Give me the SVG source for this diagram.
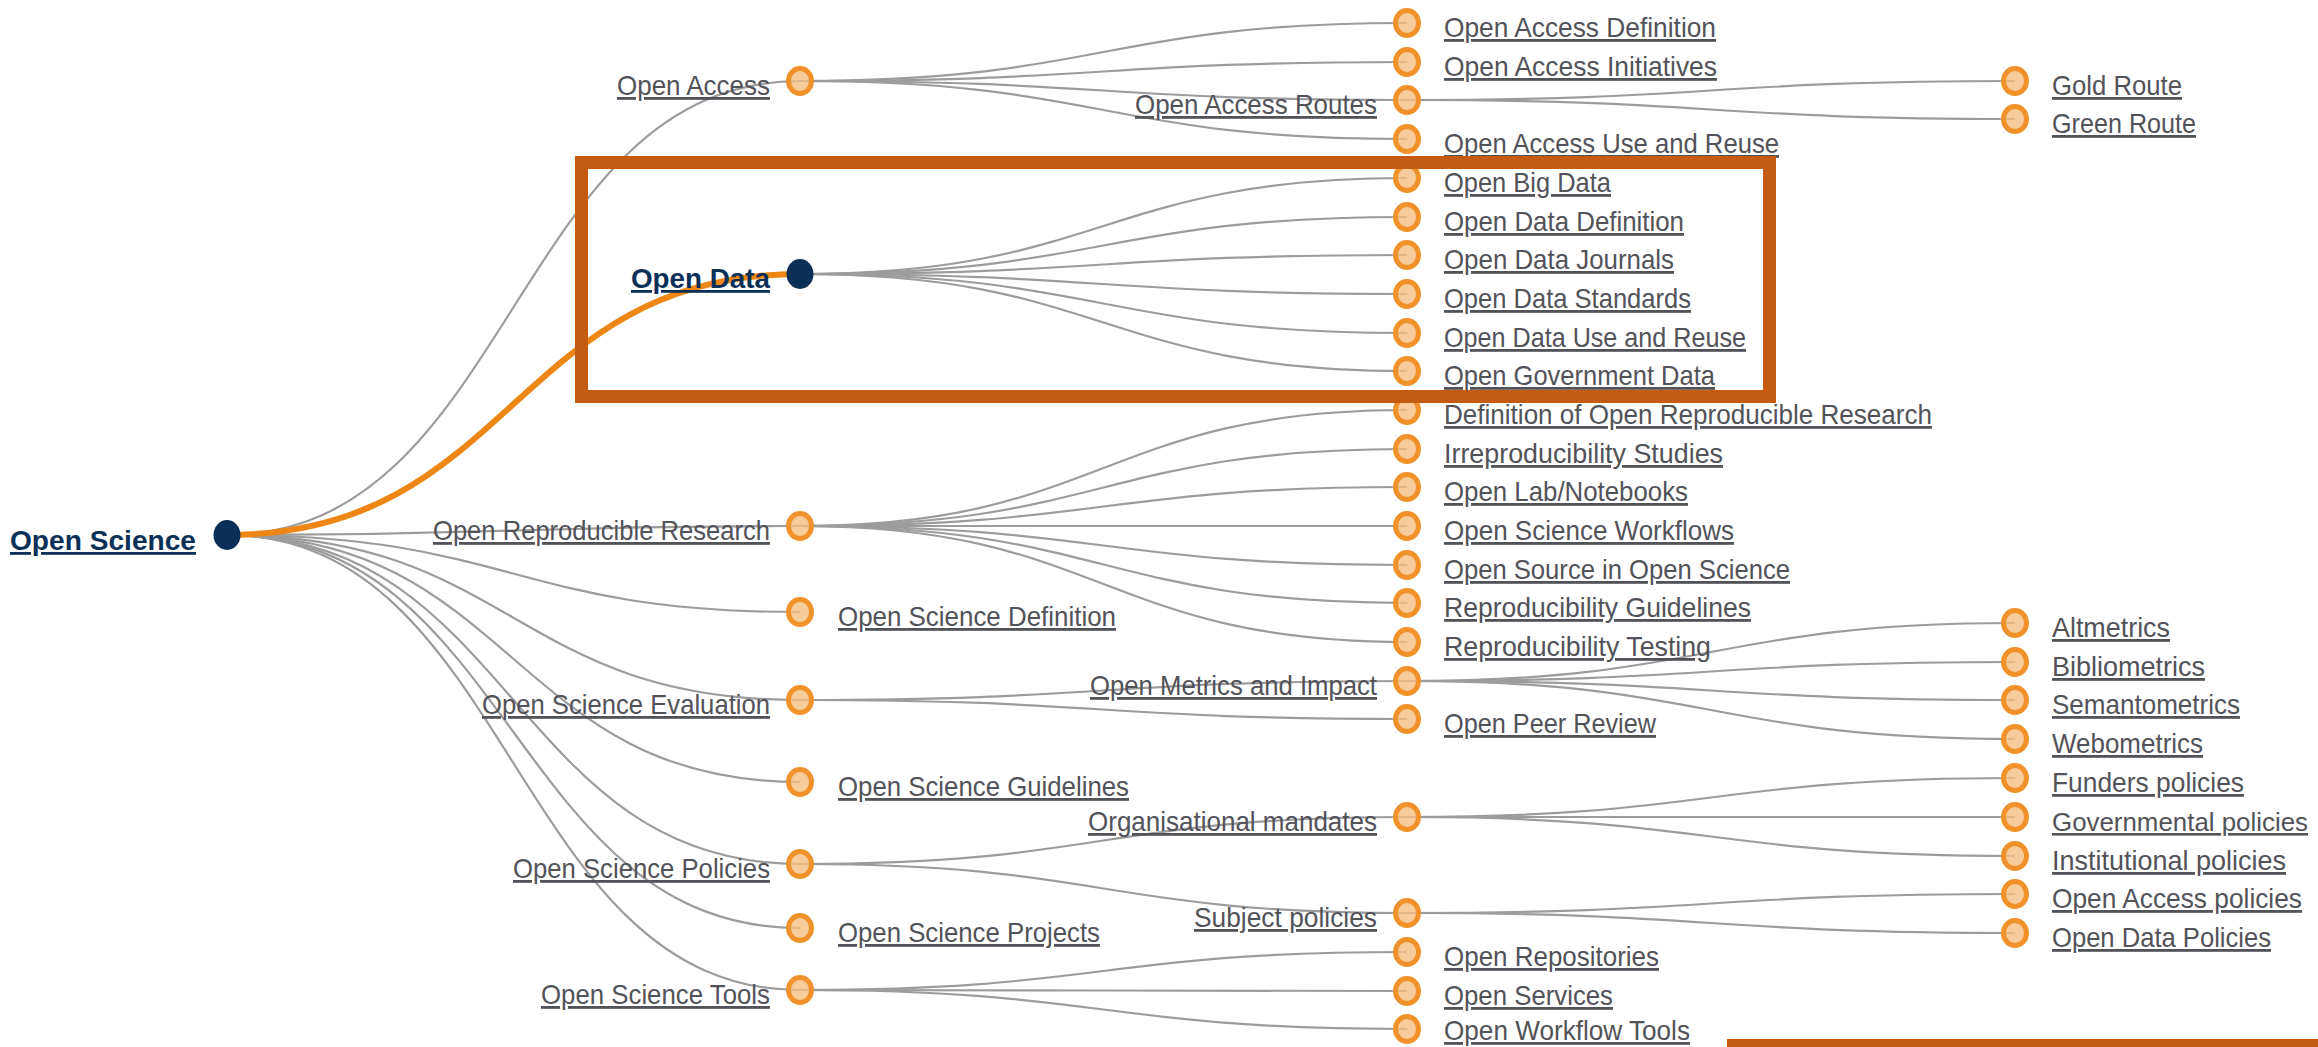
<svg xmlns="http://www.w3.org/2000/svg" width="2318" height="1047" viewBox="0 0 2318 1047">
<style>
.lk{fill:none;stroke:#9c9c9c;stroke-width:2.2}
.hl{fill:none;stroke:#ee8614;stroke-width:6}
.on{fill:#f6be85;fill-opacity:0.8;stroke:#f0912a;stroke-width:5}
.nn{fill:#0b3058}
.t{font-family:"Liberation Sans Narrow","Liberation Sans",Arial,sans-serif;font-size:28px;fill:#525259;text-decoration:underline}
.tb{font-family:"Liberation Sans",Arial,sans-serif;font-size:28px;font-weight:bold;fill:#0b3058;text-decoration:underline}
.e{text-anchor:end}
.s26{font-size:26px}
</style>
<rect width="2318" height="1047" fill="#ffffff"/>
<g id="connectors">
<path class="lk" d="M226,535 C513,535 513,81 800,81"/>
<path class="lk" d="M226,535 C513,535 513,526 800,526"/>
<path class="lk" d="M226,535 C513,535 513,612 800,612"/>
<path class="lk" d="M226,535 C513,535 513,700 800,700"/>
<path class="lk" d="M226,535 C513,535 513,782 800,782"/>
<path class="lk" d="M226,535 C513,535 513,864 800,864"/>
<path class="lk" d="M226,535 C513,535 513,928 800,928"/>
<path class="lk" d="M226,535 C513,535 513,990 800,990"/>
<path class="lk" d="M800,81 C1103.5,81 1103.5,23 1407,23"/>
<path class="lk" d="M800,81 C1103.5,81 1103.5,62 1407,62"/>
<path class="lk" d="M800,81 C1103.5,81 1103.5,100 1407,100"/>
<path class="lk" d="M800,81 C1103.5,81 1103.5,139 1407,139"/>
<path class="lk" d="M800,274 C1103.5,274 1103.5,178 1407,178"/>
<path class="lk" d="M800,274 C1103.5,274 1103.5,217 1407,217"/>
<path class="lk" d="M800,274 C1103.5,274 1103.5,255 1407,255"/>
<path class="lk" d="M800,274 C1103.5,274 1103.5,294 1407,294"/>
<path class="lk" d="M800,274 C1103.5,274 1103.5,333 1407,333"/>
<path class="lk" d="M800,274 C1103.5,274 1103.5,371 1407,371"/>
<path class="lk" d="M800,526 C1103.5,526 1103.5,410 1407,410"/>
<path class="lk" d="M800,526 C1103.5,526 1103.5,449 1407,449"/>
<path class="lk" d="M800,526 C1103.5,526 1103.5,487 1407,487"/>
<path class="lk" d="M800,526 C1103.5,526 1103.5,526 1407,526"/>
<path class="lk" d="M800,526 C1103.5,526 1103.5,565 1407,565"/>
<path class="lk" d="M800,526 C1103.5,526 1103.5,603 1407,603"/>
<path class="lk" d="M800,526 C1103.5,526 1103.5,642 1407,642"/>
<path class="lk" d="M800,700 C1103.5,700 1103.5,681 1407,681"/>
<path class="lk" d="M800,700 C1103.5,700 1103.5,719 1407,719"/>
<path class="lk" d="M800,864 C1103.5,864 1103.5,817 1407,817"/>
<path class="lk" d="M800,864 C1103.5,864 1103.5,913 1407,913"/>
<path class="lk" d="M800,990 C1103.5,990 1103.5,952 1407,952"/>
<path class="lk" d="M800,990 C1103.5,990 1103.5,991 1407,991"/>
<path class="lk" d="M800,990 C1103.5,990 1103.5,1029 1407,1029"/>
<path class="lk" d="M1407,100 C1711,100 1711,81 2015,81"/>
<path class="lk" d="M1407,100 C1711,100 1711,119 2015,119"/>
<path class="lk" d="M1407,681 C1711,681 1711,623 2015,623"/>
<path class="lk" d="M1407,681 C1711,681 1711,662 2015,662"/>
<path class="lk" d="M1407,681 C1711,681 1711,700 2015,700"/>
<path class="lk" d="M1407,681 C1711,681 1711,739 2015,739"/>
<path class="lk" d="M1407,817 C1711,817 1711,778 2015,778"/>
<path class="lk" d="M1407,817 C1711,817 1711,817 2015,817"/>
<path class="lk" d="M1407,817 C1711,817 1711,856 2015,856"/>
<path class="lk" d="M1407,913 C1711,913 1711,894 2015,894"/>
<path class="lk" d="M1407,913 C1711,913 1711,933 2015,933"/>
<path class="hl" d="M226,535 C513,535 513,274 800,274"/>
</g>
<g id="n-open-science"><ellipse class="nn" cx="227" cy="535" rx="13.5" ry="15"/><text class="tb e" x="196" y="550" textLength="186" lengthAdjust="spacingAndGlyphs">Open Science</text></g>
<g id="n-open-access"><ellipse class="on" cx="800" cy="81" rx="11.5" ry="12.5"/><text class="t e" x="770" y="95" textLength="153" lengthAdjust="spacingAndGlyphs">Open Access</text></g>
<g id="n-open-data"><ellipse class="nn" cx="800" cy="274" rx="13.5" ry="15"/><text class="tb e" x="770" y="288" textLength="139" lengthAdjust="spacingAndGlyphs">Open Data</text></g>
<g id="n-open-reproducible-research"><ellipse class="on" cx="800" cy="526" rx="11.5" ry="12.5"/><text class="t e" x="770" y="540" textLength="337" lengthAdjust="spacingAndGlyphs">Open Reproducible Research</text></g>
<g id="n-open-science-definition"><ellipse class="on" cx="800" cy="612" rx="11.5" ry="12.5"/><text class="t" x="838" y="626" textLength="278" lengthAdjust="spacingAndGlyphs">Open Science Definition</text></g>
<g id="n-open-science-evaluation"><ellipse class="on" cx="800" cy="700" rx="11.5" ry="12.5"/><text class="t e" x="770" y="714" textLength="288" lengthAdjust="spacingAndGlyphs">Open Science Evaluation</text></g>
<g id="n-open-science-guidelines"><ellipse class="on" cx="800" cy="782" rx="11.5" ry="12.5"/><text class="t" x="838" y="796" textLength="291" lengthAdjust="spacingAndGlyphs">Open Science Guidelines</text></g>
<g id="n-open-science-policies"><ellipse class="on" cx="800" cy="864" rx="11.5" ry="12.5"/><text class="t e" x="770" y="878" textLength="257" lengthAdjust="spacingAndGlyphs">Open Science Policies</text></g>
<g id="n-open-science-projects"><ellipse class="on" cx="800" cy="928" rx="11.5" ry="12.5"/><text class="t" x="838" y="942" textLength="262" lengthAdjust="spacingAndGlyphs">Open Science Projects</text></g>
<g id="n-open-science-tools"><ellipse class="on" cx="800" cy="990" rx="11.5" ry="12.5"/><text class="t e" x="770" y="1004" textLength="229" lengthAdjust="spacingAndGlyphs">Open Science Tools</text></g>
<g id="n-oa-definition"><ellipse class="on" cx="1407" cy="23" rx="11.5" ry="12.5"/><text class="t" x="1444" y="37" textLength="272" lengthAdjust="spacingAndGlyphs">Open Access Definition</text></g>
<g id="n-oa-initiatives"><ellipse class="on" cx="1407" cy="62" rx="11.5" ry="12.5"/><text class="t" x="1444" y="76" textLength="273" lengthAdjust="spacingAndGlyphs">Open Access Initiatives</text></g>
<g id="n-oa-routes"><ellipse class="on" cx="1407" cy="100" rx="11.5" ry="12.5"/><text class="t e" x="1377" y="114" textLength="242" lengthAdjust="spacingAndGlyphs">Open Access Routes</text></g>
<g id="n-oa-use-reuse"><ellipse class="on" cx="1407" cy="139" rx="11.5" ry="12.5"/><text class="t" x="1444" y="153" textLength="335" lengthAdjust="spacingAndGlyphs">Open Access Use and Reuse</text></g>
<g id="n-open-big-data"><ellipse class="on" cx="1407" cy="178" rx="11.5" ry="12.5"/><text class="t" x="1444" y="192" textLength="167" lengthAdjust="spacingAndGlyphs">Open Big Data</text></g>
<g id="n-od-definition"><ellipse class="on" cx="1407" cy="217" rx="11.5" ry="12.5"/><text class="t" x="1444" y="231" textLength="240" lengthAdjust="spacingAndGlyphs">Open Data Definition</text></g>
<g id="n-od-journals"><ellipse class="on" cx="1407" cy="255" rx="11.5" ry="12.5"/><text class="t" x="1444" y="269" textLength="230" lengthAdjust="spacingAndGlyphs">Open Data Journals</text></g>
<g id="n-od-standards"><ellipse class="on" cx="1407" cy="294" rx="11.5" ry="12.5"/><text class="t" x="1444" y="308" textLength="247" lengthAdjust="spacingAndGlyphs">Open Data Standards</text></g>
<g id="n-od-use-reuse"><ellipse class="on" cx="1407" cy="333" rx="11.5" ry="12.5"/><text class="t" x="1444" y="347" textLength="302" lengthAdjust="spacingAndGlyphs">Open Data Use and Reuse</text></g>
<g id="n-open-government-data"><ellipse class="on" cx="1407" cy="371" rx="11.5" ry="12.5"/><text class="t" x="1444" y="385" textLength="271" lengthAdjust="spacingAndGlyphs">Open Government Data</text></g>
<g id="n-def-orr"><ellipse class="on" cx="1407" cy="410" rx="11.5" ry="12.5"/><text class="t" x="1444" y="424" textLength="488" lengthAdjust="spacingAndGlyphs">Definition of Open Reproducible Research</text></g>
<g id="n-irreproducibility"><ellipse class="on" cx="1407" cy="449" rx="11.5" ry="12.5"/><text class="t" x="1444" y="463" textLength="279" lengthAdjust="spacingAndGlyphs">Irreproducibility Studies</text></g>
<g id="n-open-lab"><ellipse class="on" cx="1407" cy="487" rx="11.5" ry="12.5"/><text class="t" x="1444" y="501" textLength="244" lengthAdjust="spacingAndGlyphs">Open Lab/Notebooks</text></g>
<g id="n-os-workflows"><ellipse class="on" cx="1407" cy="526" rx="11.5" ry="12.5"/><text class="t" x="1444" y="540" textLength="290" lengthAdjust="spacingAndGlyphs">Open Science Workflows</text></g>
<g id="n-open-source"><ellipse class="on" cx="1407" cy="565" rx="11.5" ry="12.5"/><text class="t" x="1444" y="579" textLength="346" lengthAdjust="spacingAndGlyphs">Open Source in Open Science</text></g>
<g id="n-repro-guidelines"><ellipse class="on" cx="1407" cy="603" rx="11.5" ry="12.5"/><text class="t" x="1444" y="617" textLength="307" lengthAdjust="spacingAndGlyphs">Reproducibility Guidelines</text></g>
<g id="n-repro-testing"><ellipse class="on" cx="1407" cy="642" rx="11.5" ry="12.5"/><text class="t" x="1444" y="656" textLength="267" lengthAdjust="spacingAndGlyphs">Reproducibility Testing</text></g>
<g id="n-open-metrics"><ellipse class="on" cx="1407" cy="681" rx="11.5" ry="12.5"/><text class="t e" x="1377" y="695" textLength="287" lengthAdjust="spacingAndGlyphs">Open Metrics and Impact</text></g>
<g id="n-open-peer-review"><ellipse class="on" cx="1407" cy="719" rx="11.5" ry="12.5"/><text class="t" x="1444" y="733" textLength="212" lengthAdjust="spacingAndGlyphs">Open Peer Review</text></g>
<g id="n-org-mandates"><ellipse class="on" cx="1407" cy="817" rx="11.5" ry="12.5"/><text class="t e" x="1377" y="831" textLength="289" lengthAdjust="spacingAndGlyphs">Organisational mandates</text></g>
<g id="n-subject-policies"><ellipse class="on" cx="1407" cy="913" rx="11.5" ry="12.5"/><text class="t e" x="1377" y="927" textLength="183" lengthAdjust="spacingAndGlyphs">Subject policies</text></g>
<g id="n-open-repositories"><ellipse class="on" cx="1407" cy="952" rx="11.5" ry="12.5"/><text class="t" x="1444" y="966" textLength="215" lengthAdjust="spacingAndGlyphs">Open Repositories</text></g>
<g id="n-open-services"><ellipse class="on" cx="1407" cy="991" rx="11.5" ry="12.5"/><text class="t" x="1444" y="1005" textLength="169" lengthAdjust="spacingAndGlyphs">Open Services</text></g>
<g id="n-open-workflow-tools"><ellipse class="on" cx="1407" cy="1029" rx="11.5" ry="12.5"/><text class="t" x="1444" y="1040" textLength="246" lengthAdjust="spacingAndGlyphs">Open Workflow Tools</text></g>
<g id="n-gold-route"><ellipse class="on" cx="2015" cy="81" rx="11.5" ry="12.5"/><text class="t" x="2052" y="95" textLength="130" lengthAdjust="spacingAndGlyphs">Gold Route</text></g>
<g id="n-green-route"><ellipse class="on" cx="2015" cy="119" rx="11.5" ry="12.5"/><text class="t" x="2052" y="133" textLength="144" lengthAdjust="spacingAndGlyphs">Green Route</text></g>
<g id="n-altmetrics"><ellipse class="on" cx="2015" cy="623" rx="11.5" ry="12.5"/><text class="t" x="2052" y="637" textLength="118" lengthAdjust="spacingAndGlyphs">Altmetrics</text></g>
<g id="n-bibliometrics"><ellipse class="on" cx="2015" cy="662" rx="11.5" ry="12.5"/><text class="t" x="2052" y="676" textLength="153" lengthAdjust="spacingAndGlyphs">Bibliometrics</text></g>
<g id="n-semantometrics"><ellipse class="on" cx="2015" cy="700" rx="11.5" ry="12.5"/><text class="t" x="2052" y="714" textLength="188" lengthAdjust="spacingAndGlyphs">Semantometrics</text></g>
<g id="n-webometrics"><ellipse class="on" cx="2015" cy="739" rx="11.5" ry="12.5"/><text class="t" x="2052" y="753" textLength="151" lengthAdjust="spacingAndGlyphs">Webometrics</text></g>
<g id="n-funders-policies"><ellipse class="on" cx="2015" cy="778" rx="11.5" ry="12.5"/><text class="t" x="2052" y="792" textLength="192" lengthAdjust="spacingAndGlyphs">Funders policies</text></g>
<g id="n-governmental-policies"><ellipse class="on" cx="2015" cy="817" rx="11.5" ry="12.5"/><text class="t s26" x="2052" y="831" textLength="256" lengthAdjust="spacingAndGlyphs">Governmental policies</text></g>
<g id="n-institutional-policies"><ellipse class="on" cx="2015" cy="856" rx="11.5" ry="12.5"/><text class="t" x="2052" y="870" textLength="234" lengthAdjust="spacingAndGlyphs">Institutional policies</text></g>
<g id="n-oa-policies"><ellipse class="on" cx="2015" cy="894" rx="11.5" ry="12.5"/><text class="t" x="2052" y="908" textLength="250" lengthAdjust="spacingAndGlyphs">Open Access policies</text></g>
<g id="n-od-policies"><ellipse class="on" cx="2015" cy="933" rx="11.5" ry="12.5"/><text class="t" x="2052" y="947" textLength="219" lengthAdjust="spacingAndGlyphs">Open Data Policies</text></g>
<g id="highlight">
<rect x="581.5" y="162.5" width="1188" height="234" fill="none" stroke="#c55a11" stroke-width="13"/>
<rect x="1727" y="1039" width="591" height="8" fill="#c55a11"/>
</g>
</svg>
